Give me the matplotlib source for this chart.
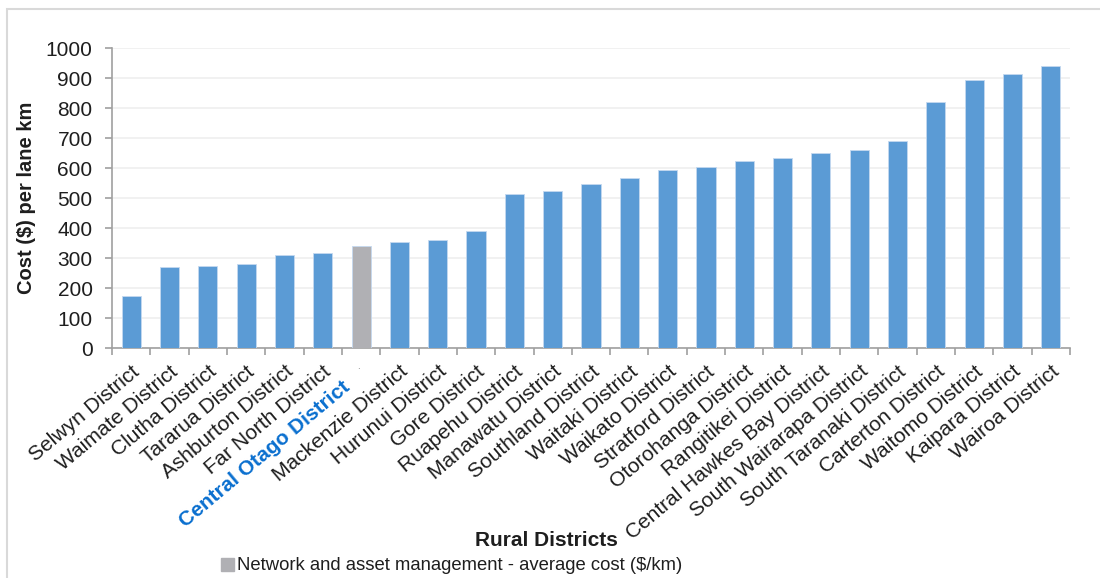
import numpy as np
import matplotlib.pyplot as plt
from matplotlib.patches import Rectangle
from matplotlib.transforms import ScaledTranslation

plt.rcParams['font.family'] = ['Liberation Sans', 'DejaVu Sans']

districts = ['Selwyn District', 'Waimate District', 'Clutha District', 'Tararua District',
             'Ashburton District', 'Far North District', 'Central Otago District',
             'Mackenzie District', 'Hurunui District', 'Gore District', 'Ruapehu District',
             'Manawatu District', 'Southland District', 'Waitaki District', 'Waikato District',
             'Stratford District', 'Otorohanga District', 'Rangitikei District',
             'Central Hawkes Bay District', 'South Wairarapa District', 'South Taranaki District',
             'Carterton District', 'Waitomo District', 'Kaipara District', 'Wairoa District']
cost = [175, 269, 272, 279, 310, 317, 340, 352, 360, 390, 512, 523, 547, 566, 594,
        605, 623, 632, 651, 659, 689, 819, 892, 912, 940]
highlight = 'Central Otago District'

blue = '#5b9bd5'
grey = '#b0b0b4'
txt = '#1e1e1e'

fig = plt.figure(figsize=(11, 5.78), dpi=100)
ax = fig.add_axes([112/1100, 1 - 348/578, 958/1100, 300/578])

x = np.arange(len(districts))
hi = districts.index(highlight)
cols = [grey if d == highlight else blue for d in districts]
ax.bar(x, cost, width=0.5, color=cols, edgecolor='#c4d9f0', linewidth=0.6, zorder=3)
# proxy handle for the legend entry
leg_patch = Rectangle((0, 0), 1, 1, color=grey)

ax.set_xlim(-0.5, len(districts) - 0.5)
ax.set_ylim(0, 1000)
ax.set_yticks(np.arange(0, 1001, 100))
ax.yaxis.grid(True, color='#efefef', linewidth=1.2, zorder=0)
ax.set_axisbelow(True)

for s in ['top', 'right']:
    ax.spines[s].set_visible(False)
for s in ['left', 'bottom']:
    ax.spines[s].set_color('#a0a0a0')
    ax.spines[s].set_linewidth(1.2)

ax.tick_params(axis='y', direction='out', length=5, color='#a0a0a0', width=1.2,
               labelsize=15, labelcolor=txt, pad=9)
# ticks sit between categories, labels sit under the bars
ax.set_xticks(np.arange(len(districts) + 1) - 0.5)
ax.set_xticklabels([])
ax.tick_params(axis='x', direction='out', length=5, color='#a0a0a0', width=1.2)
ax.set_xticks(x, minor=True)
ax.tick_params(axis='x', which='minor', length=0, pad=10)
ticklabels = ['' if d == highlight else d for d in districts]
ax.set_xticklabels(ticklabels, minor=True, rotation=40, ha='right', va='top',
                   rotation_mode='anchor', fontsize=15, color=txt)

# highlighted district gets its own label, nudged down-left, with a stray dot left in its slot
base = ax.get_xaxis_transform()
ax.text(hi, 0, '.', transform=base + ScaledTranslation(-0.03, -0.13, fig.dpi_scale_trans),
        fontsize=7, color='#777777', ha='center', va='top')
ax.text(hi, 0, highlight, transform=base + ScaledTranslation(-0.20, -0.29, fig.dpi_scale_trans),
        rotation=40, ha='right', va='top', rotation_mode='anchor', fontsize=15,
        fontweight='bold', color='#0a6fcf')

ax.set_ylabel('Cost ($) per lane km', fontsize=14.5, fontweight='bold', color=txt, labelpad=7)
fig.text(546/1100, 1 - 540/578, 'Rural Districts', fontsize=15, fontweight='bold',
         color=txt, ha='center', va='center')

fig.legend([leg_patch], ['Network and asset management - average cost ($/km)'],
           loc='center left', bbox_to_anchor=(204/1100, 1 - 566/578), frameon=False,
           fontsize=13.3, handlelength=0.7, handleheight=0.7, handletextpad=0.2,
           labelcolor=txt)

# light frame around the chart area
fig.patches.append(Rectangle((7/1100, -0.1), 1.2, 1 - 9/578 + 0.1, transform=fig.transFigure,
                             fill=False, edgecolor='#d9d9d9', linewidth=1.5))

fig.savefig('out.png', dpi=100)
